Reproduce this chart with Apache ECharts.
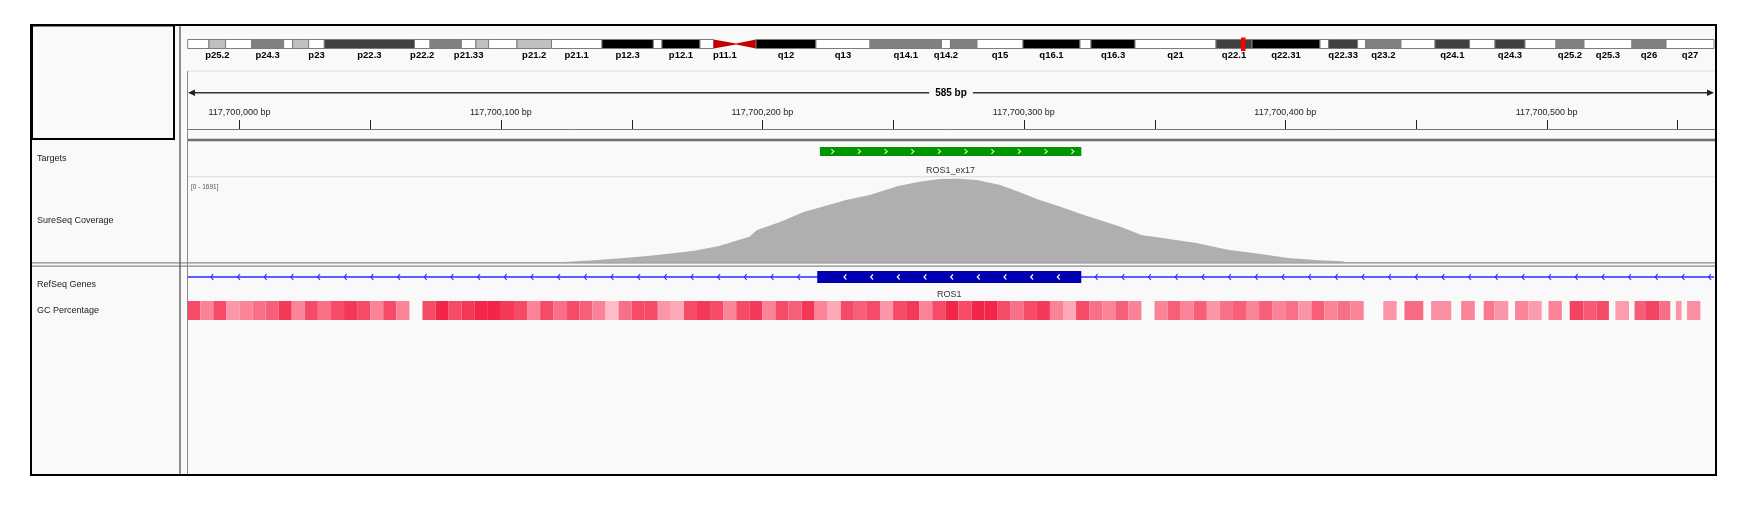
<!DOCTYPE html>
<html><head><meta charset="utf-8">
<script src="https://cdn.jsdelivr.net/npm/echarts@6/dist/echarts.min.js"></script>
<style>html,body{margin:0;padding:0;background:#fff}#c{width:1753px;height:508px}</style>
</head><body><div id="c"></div>
<script>
// ---------- DATA ----------
const viewStart = 117699980.2, viewEnd = 117700564.0;
const spanLabel = '585 bp';
// chromosome 6 ideogram (Mb)
const bandStart = [0,2.38,4.24,7.14,10.74,11.74,13.54,15.29,25.38,27.12,30.62,32.26,33.67,36.85,40.71,46.36,52.11,53.08,57.33,58.85,61.36,63.60,70.31,76.36,84.36,85.36,88.33,93.48,99.86,101.09,106.02,115.08,119.11,126.72,127.68,130.93,131.82,135.78,139.59,143.46,146.30,149.66,153.13,156.26,161.63,165.44];
const bandEnd   = [2.38,4.24,7.14,10.74,11.74,13.54,15.29,25.38,27.12,30.62,32.26,33.67,36.85,40.71,46.36,52.11,53.08,57.33,58.85,61.36,63.60,70.31,76.36,84.36,85.36,88.33,93.48,99.86,101.09,106.02,115.08,119.11,126.72,127.68,130.93,131.82,135.78,139.59,143.46,146.30,149.66,153.13,156.26,161.63,165.44,170.81];
const bandStain = ['gneg','gpos25','gneg','gpos50','gneg','gpos25','gneg','gpos75','gneg','gpos50','gneg','gpos25','gneg','gpos25','gneg','gpos100','gneg','gpos100','gneg','acenL','acenR','gpos100','gneg','gpos50','gneg','gpos50','gneg','gpos100','gneg','gpos100','gneg','gpos75','gpos100','gneg','gpos75','gneg','gpos50','gneg','gpos75','gneg','gpos75','gneg','gpos50','gneg','gpos50','gneg'];
const bandLabel = ['','p25.2','','p24.3','','','p23','p22.3','p22.2','','p21.33','','','p21.2','p21.1','p12.3','','p12.1','','p11.1','','q12','q13','q14.1','q14.2','','q15','q16.1','','q16.3','q21','q22.1','q22.31','','q22.33','','q23.2','','q24.1','','q24.3','','q25.2','q25.3','q26','q27'];
const currentPosMb = [118.1];
// ruler
const rulerTicks  = [117700000,117700050,117700100,117700150,117700200,117700250,117700300,117700350,117700400,117700450,117700500,117700550];
const rulerLabels = ['117,700,000 bp','','117,700,100 bp','','117,700,200 bp','','117,700,300 bp','','117,700,400 bp','','117,700,500 bp',''];
// targets
const targetNames = ['ROS1_ex17'];
const targetStart = [117700222];
const targetEnd   = [117700322];
// coverage
const covMax = 1691;
const covPos   = [117700124,117700137,117700147,117700156,117700164,117700174,117700183,117700186,117700190,117700195,117700198,117700207,117700216,117700224,117700232,117700241,117700245,117700252,117700260,117700268,117700275,117700282,117700291,117700298,117700306,117700314,117700321,117700329,117700337,117700345,117700353,117700360,117700366,117700378,117700390,117700401,117700413,117700422,117700423];
const covDepth = [0,40,80,119,165,225,312,358,424,503,637,802,1001,1114,1233,1333,1399,1512,1597,1651,1657,1631,1532,1399,1233,1100,969,836,702,537,477,424,378,245,165,80,34,14,0];
// genes
const geneName = 'ROS1';
const geneTxStart = 117699900, geneTxEnd = 117700700;
const exonStart = [117700221];
const exonEnd   = [117700322];
// GC percentage: 5 bp windows from 117699980 to 117700430 ...
const gcFirstBin = 117699980, gcBinSize = 5;
const gcPercent = [70,55,70,50,55,60,65,75,55,70,60,70,75,70,55,70,55,20,70,80,70,75,80,80,75,70,55,70,60,70,65,55,40,60,70,70,50,45,70,75,70,55,70,75,55,70,65,75,55,45,70,65,70,50,70,75,55,70,80,70,80,80,70,60,70,75,55,45,70,60,55,65,55,20,55,65,55,65,50,60,65,55,65,55,60,50,65,55,60,55];
// ... then sparser segments toward the right edge
const gcTailStart = [117700437.5,117700445.6,117700455.8,117700467.3,117700475.9,117700480,117700487.9,117700493,117700500.7,117700508.8,117700514,117700519,117700526.3,117700533.6,117700538,117700543,117700549.4,117700553.7];
const gcTailEnd   = [117700442.6,117700452.8,117700463.5,117700472.5,117700480,117700485.3,117700493,117700498.1,117700505.8,117700514,117700519,117700523.8,117700531.5,117700538,117700543,117700547.3,117700551.6,117700558.8];
const gcTailValue = [50,62,52,55,58,50,55,48,55,72,66,70,48,65,72,60,50,52];

// ---------- CHART ----------
const FONT = '"Liberation Sans", Arial, sans-serif';
const L = 187.7, W = 1526.3;
const grids = [
  {left:L, top:39.5, width:W, height:9},     // ideogram
  {left:L, top:71,   width:W, height:58.5},  // ruler
  {left:L, top:147,  width:W, height:9},     // targets
  {left:L, top:177,  width:W, height:85},    // coverage
  {left:L, top:271,  width:W, height:12},    // genes
  {left:L, top:301,  width:W, height:19}     // gc
];
const xAxes = grids.map((g,i)=>({gridIndex:i,type:'value',show:false,
  min: i===0?0:viewStart, max: i===0?170.81:viewEnd}));
const yAxes = grids.map((g,i)=>({gridIndex:i,type:'value',show:false,min:0,max:i===3?covMax:1}));

const stainColor = {gneg:'#ffffff',gpos25:'#c0c0c0',gpos50:'#808080',gpos75:'#404040',gpos100:'#000000',acenL:'#c40000',acenR:'#c40000'};

function gcColor(v){
  let t = (v-35)/(90-35); t=Math.max(0,Math.min(1,t));
  const a=[255,206,216], b=[240,0,40];
  const c=a.map((x,k)=>Math.round(x+(b[k]-x)*t));
  return 'rgb('+c.join(',')+')';
}

const series = [];
// ideogram bands
series.push({type:'custom',xAxisIndex:0,yAxisIndex:0,silent:true,
  data: bandStart.map((s,i)=>[s,bandEnd[i],i]),
  renderItem(params, api){
    const i = api.value(2);
    const p0 = api.coord([api.value(0),1]), p1 = api.coord([api.value(1),0]);
    const st = bandStain[i];
    const children = [];
    const ym = (p0[1]+p1[1])/2;
    if (st==='acenL'){
      children.push({type:'polygon',shape:{points:[[p0[0],p0[1]],[p1[0],ym-0.6],[p1[0],ym+0.6],[p0[0],p1[1]]]},style:{fill:stainColor[st]}});
    } else if (st==='acenR'){
      children.push({type:'polygon',shape:{points:[[p0[0],ym-0.6],[p1[0],p0[1]],[p1[0],p1[1]],[p0[0],ym+0.6]]},style:{fill:stainColor[st]}});
    } else {
      children.push({type:'rect',shape:{x:p0[0],y:p0[1],width:p1[0]-p0[0],height:p1[1]-p0[1]},
        style:{fill:stainColor[st],stroke:'#7c7c7c',lineWidth:1}});
    }
    if (bandLabel[i]) {
      children.push({type:'text',style:{text:bandLabel[i],x:(p0[0]+p1[0])/2,y:p1[1]+7,align:'center',verticalAlign:'middle',
        font:'bold 9.5px '+FONT,fill:'#000'}});
    }
    return {type:'group',children};
  }});
// current position marker
series.push({type:'custom',xAxisIndex:0,yAxisIndex:0,silent:true,z:5,
  data: currentPosMb.map(v=>[v]),
  renderItem(params, api){
    const p = api.coord([api.value(0),0]);
    return {type:'rect',shape:{x:p[0]-2,y:37.5,width:4.5,height:13.5},style:{fill:'#ff0000'}};
  }});
// ruler ticks
series.push({type:'custom',xAxisIndex:1,yAxisIndex:1,silent:true,
  data: rulerTicks.map((t,i)=>[t,i]),
  renderItem(params, api){
    const i = api.value(1);
    const p = api.coord([api.value(0),0]);
    const x = Math.round(p[0])+0.5;
    const ch = [{type:'line',shape:{x1:x,y1:p[1]-9.5,x2:x,y2:p[1]},style:{stroke:'#222',lineWidth:1}}];
    if (rulerLabels[i]) ch.push({type:'text',style:{text:rulerLabels[i],x:p[0],y:p[1]-16.5,align:'center',verticalAlign:'middle',font:'9px '+FONT,fill:'#222'}});
    return {type:'group',children:ch};
  }});
// targets
series.push({type:'custom',xAxisIndex:2,yAxisIndex:2,silent:true,
  data: targetStart.map((s,i)=>[s,targetEnd[i],i]),
  renderItem(params, api){
    const i = api.value(2);
    const p0 = api.coord([api.value(0),1]), p1 = api.coord([api.value(1),0]);
    const ym = (p0[1]+p1[1])/2;
    const ch = [{type:'rect',shape:{x:p0[0],y:p0[1],width:p1[0]-p0[0],height:p1[1]-p0[1]},style:{fill:'#009600'}}];
    for (let x=p0[0]+12.7; x<p1[0]-4; x+=26.67){
      ch.push({type:'polyline',shape:{points:[[x-1.3,ym-2.3],[x+1.3,ym],[x-1.3,ym+2.3]]},style:{stroke:'#d6f5d6',lineWidth:1.1,fill:null}});
    }
    ch.push({type:'text',style:{text:targetNames[i],x:(p0[0]+p1[0])/2,y:p1[1]+15,align:'center',verticalAlign:'middle',font:'9px '+FONT,fill:'#333'}});
    return {type:'group',children:ch};
  }});
// coverage
series.push({type:'line',xAxisIndex:3,yAxisIndex:3,silent:true,symbol:'none',
  data: covPos.map((p,i)=>[p,covDepth[i]]),
  lineStyle:{width:0},areaStyle:{color:'#afafaf',opacity:1}});
// gene
series.push({type:'custom',xAxisIndex:4,yAxisIndex:4,silent:true,
  data: [[geneTxStart,geneTxEnd]],
  renderItem(params, api){
    const cs = params.coordSys;
    const xa = Math.max(api.coord([api.value(0),0])[0],cs.x), xb = Math.min(api.coord([api.value(1),0])[0],cs.x+cs.width);
    const ym = cs.y + cs.height/2;
    const ch = [{type:'line',shape:{x1:xa,y1:ym,x2:xb,y2:ym},style:{stroke:'#2a2aff',lineWidth:1.3}}];
    const boxes = exonStart.map((s,k)=>[api.coord([s,1])[0],api.coord([exonEnd[k],0])[0]]);
    const inBox = x => boxes.some(b=>x>b[0]-3 && x<b[1]+3);
    for (let x=xa+24; x<boxes[0][0]; x+=26.67){ if(!inBox(x)) ch.push({type:'polyline',shape:{points:[[x+1.6,ym-3],[x-0.8,ym],[x+1.6,ym+3]]},style:{stroke:'#2a2aff',lineWidth:1.2,fill:null}}); }
    for (let x=boxes[boxes.length-1][1]+14.7; x<xb-2; x+=26.67){ ch.push({type:'polyline',shape:{points:[[x+1.6,ym-3],[x-0.8,ym],[x+1.6,ym+3]]},style:{stroke:'#2a2aff',lineWidth:1.2,fill:null}}); }
    boxes.forEach(b=>{
      ch.push({type:'rect',shape:{x:b[0],y:cs.y,width:b[1]-b[0],height:cs.height},style:{fill:'#0000b2'}});
      for (let x=b[0]+27.7; x<b[1]-5; x+=26.67){
        ch.push({type:'polyline',shape:{points:[[x+1.4,ym-2.5],[x-1,ym],[x+1.4,ym+2.5]]},style:{stroke:'#ffffff',lineWidth:1.1,fill:null}});
      }
    });
    const mid = (boxes[0][0]+boxes[0][1])/2;
    ch.push({type:'text',style:{text:geneName,x:mid,y:cs.y+cs.height+12,align:'center',verticalAlign:'middle',font:'9px '+FONT,fill:'#333'}});
    return {type:'group',children:ch};
  }});
// GC percentage
const gcData = gcPercent.map((v,i)=>[gcFirstBin+i*gcBinSize, gcFirstBin+(i+1)*gcBinSize, v])
  .concat(gcTailStart.map((s,i)=>[s, gcTailEnd[i], gcTailValue[i]]));
series.push({type:'custom',xAxisIndex:5,yAxisIndex:5,silent:true,clip:true,
  data: gcData,
  renderItem(params, api){
    const v = api.value(2);
    if (v < 30) return null;
    const cs = params.coordSys;
    let x0 = api.coord([api.value(0),1])[0], x1 = api.coord([api.value(1),0])[0];
    x0 = Math.max(x0, cs.x); x1 = Math.min(x1, cs.x+cs.width);
    if (x1<=x0) return null;
    return {type:'rect',shape:{x:x0,y:cs.y,width:x1-x0,height:cs.height},style:{fill:gcColor(v)}};
  }});

const g = [];
// backgrounds
g.push({type:'rect',z:-10,shape:{x:31,y:25,width:1685,height:450},style:{fill:'#f9f9f9'}});
// header ruler/ideogram lines
g.push({type:'line',z:50,shape:{x1:187.7,y1:71,x2:1716,y2:71},style:{stroke:'#dedede',lineWidth:1.2}});
g.push({type:'line',z:50,shape:{x1:187.7,y1:129.5,x2:1716,y2:129.5},style:{stroke:'#777',lineWidth:1}});
g.push({type:'line',z:50,shape:{x1:187.7,y1:140,x2:1716,y2:140},style:{stroke:'#6e6e6e',lineWidth:2.5}});
g.push({type:'line',z:50,shape:{x1:187.7,y1:176.7,x2:1716,y2:176.7},style:{stroke:'#d9d9e3',lineWidth:1}});
// panel separator double line
g.push({type:'line',z:50,shape:{x1:31,y1:262.8,x2:1716,y2:262.8},style:{stroke:'#8a8a8a',lineWidth:1.3}});
g.push({type:'line',z:50,shape:{x1:31,y1:266.2,x2:1716,y2:266.2},style:{stroke:'#8a8a8a',lineWidth:1.3}});
// vertical dividers
g.push({type:'line',z:50,shape:{x1:180,y1:25,x2:180,y2:475},style:{stroke:'#555',lineWidth:1.3}});
g.push({type:'line',z:50,shape:{x1:187.5,y1:71,x2:187.5,y2:475},style:{stroke:'#8a8a8a',lineWidth:1}});
// header box and outer frame
g.push({type:'rect',z:60,shape:{x:32,y:25.5,width:142,height:113.5},style:{fill:'#f9f9f9',stroke:'#000',lineWidth:2}});
g.push({type:'rect',z:60,shape:{x:31,y:25,width:1685,height:450},style:{fill:null,stroke:'#000',lineWidth:2}});
// ruler span arrow
g.push({type:'line',z:50,shape:{x1:190,y1:92.7,x2:1712,y2:92.7},style:{stroke:'#333',lineWidth:1.6}});
g.push({type:'polygon',z:50,shape:{points:[[188,92.7],[195,89.5],[195,95.9]]},style:{fill:'#222'}});
g.push({type:'polygon',z:50,shape:{points:[[1714,92.7],[1707,89.5],[1707,95.9]]},style:{fill:'#222'}});
g.push({type:'text',z:55,style:{text:spanLabel,x:951,y:93,align:'center',verticalAlign:'middle',font:'bold 10px '+FONT,fill:'#000',backgroundColor:'#f9f9f9',padding:[2,6]}});
// track names
[['Targets',159],['SureSeq Coverage',221],['RefSeq Genes',285],['GC Percentage',311]].forEach(t=>{
  g.push({type:'text',z:55,style:{text:t[0],x:37,y:t[1],align:'left',verticalAlign:'middle',font:'9px '+FONT,fill:'#1a1a1a'}});
});
g.push({type:'text',z:55,style:{text:'[0 - '+covMax+']',x:191,y:187,align:'left',verticalAlign:'middle',font:'6.5px '+FONT,fill:'#555'}});

const chart = echarts.init(document.getElementById('c'), null, {renderer:'canvas'});
chart.setOption({animation:false, backgroundColor:'#ffffff',
  grid: grids, xAxis: xAxes, yAxis: yAxes, series, graphic: g});
</script>
</body></html>
